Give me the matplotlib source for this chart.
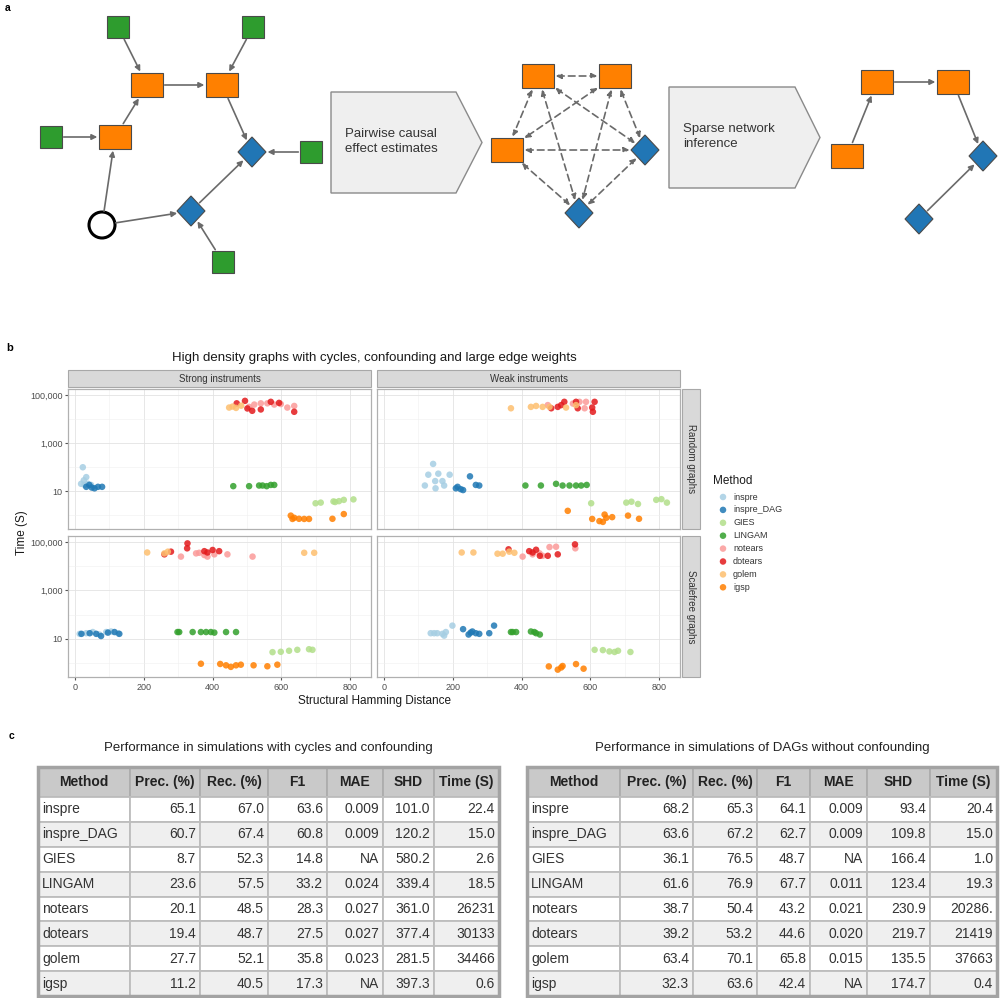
import matplotlib
matplotlib.use("Agg")
import matplotlib.pyplot as plt
from matplotlib.patches import Rectangle, Polygon, Circle, FancyArrowPatch
from matplotlib.ticker import FixedLocator, NullFormatter

plt.rcParams["font.family"] = ["Liberation Sans", "DejaVu Sans"]

# ---------------- data: panel b (SHD vs time per facet) ----------------
methods = ["inspre", "inspre_DAG", "GIES", "LINGAM", "notears", "dotears", "golem", "igsp"]
method_colors = ["#A6CEE3", "#1F78B4", "#B2DF8A", "#33A02C", "#FB9A99", "#E31A1C", "#FDBF6F", "#FF7F00"]

# strong instruments, random graphs
sr_shd = {
    "inspre": [23, 33, 26, 18, 38, 47, 28],
    "inspre_DAG": [33, 42, 57, 67, 79, 49],
    "GIES": [699, 714, 751, 767, 781, 809, 756],
    "LINGAM": [460, 506, 535, 545, 557, 569, 579],
    "notears": [506, 521, 540, 559, 579, 598, 617, 637],
    "dotears": [470, 494, 501, 515, 540, 569, 593, 637],
    "golem": [448, 458, 468, 483],
    "igsp": [627, 637, 651, 666, 680, 632, 748, 781],
}
sr_time = {
    "inspre": [98, 38, 28, 20, 20, 18, 18],
    "inspre_DAG": [15, 18, 13, 15, 15, 14],
    "GIES": [3.1, 3.3, 3.7, 3.8, 4.3, 4.5, 3.5],
    "LINGAM": [16, 16, 17, 17, 16, 18, 18],
    "notears": [32000, 40000, 45000, 45000, 40000, 42000, 30000, 35000],
    "dotears": [45000, 57000, 27500, 22000, 25000, 52000, 47000, 20000],
    "golem": [30000, 33000, 29000, 36000],
    "igsp": [0.95, 0.77, 0.7, 0.69, 0.69, 0.69, 0.7, 1.1],
}
# weak instruments, random graphs
wr_shd = {
    "inspre": [143, 129, 158, 191, 149, 170, 119, 150, 175],
    "inspre_DAG": [250, 209, 223, 267, 277, 230, 214],
    "GIES": [602, 704, 719, 738, 791, 806, 822],
    "LINGAM": [411, 456, 500, 519, 539, 558, 573, 589],
    "notears": [476, 549, 568, 587, 583],
    "dotears": [486, 505, 524, 558, 563, 607, 612, 515, 605],
    "golem": [369, 427, 442, 461, 481, 529, 558],
    "igsp": [534, 605, 626, 641, 646, 663, 709, 741, 636],
}
wr_time = {
    "inspre": [135, 48, 53, 48, 26, 26, 17, 13, 17],
    "inspre_DAG": [41, 13, 12, 18, 17, 11, 15],
    "GIES": [3.1, 3.3, 3.6, 2.9, 4.3, 4.6, 3.3],
    "LINGAM": [17, 17, 20, 17, 17, 17, 17, 18],
    "notears": [38000, 44000, 52000, 52000, 28000],
    "dotears": [28000, 32000, 52000, 52000, 28000, 20000, 52000, 38000, 30000],
    "golem": [28000, 32000, 35000, 32000, 32000, 30000, 38000],
    "igsp": [1.5, 0.69, 0.56, 1.05, 0.77, 0.82, 0.95, 0.7, 0.52],
}
# strong instruments, scalefree graphs
ss_shd = {
    "inspre": [14, 33, 52, 71, 91, 105, 125],
    "inspre_DAG": [19, 43, 62, 76, 96, 115, 129],
    "GIES": [574, 598, 622, 646, 680, 690],
    "LINGAM": [298, 303, 342, 366, 381, 395, 405, 439, 468],
    "notears": [308, 352, 376, 405, 443, 516, 385, 361],
    "dotears": [327, 326, 260, 279, 376, 385, 400, 419],
    "golem": [210, 260, 270, 666, 695],
    "igsp": [366, 422, 439, 453, 468, 482, 519, 559, 588],
}
ss_time = {
    "inspre": [16, 17, 19, 15, 19, 20, 17],
    "inspre_DAG": [16, 17, 16, 13, 18, 19, 16],
    "GIES": [2.8, 2.9, 3.2, 3.5, 3.7, 3.5],
    "LINGAM": [19, 19, 19, 19, 19, 19, 18, 19, 19],
    "notears": [25000, 34000, 29000, 31000, 31000, 25000, 25000, 36000],
    "dotears": [88000, 55000, 31000, 40000, 42000, 37000, 47000, 42000],
    "golem": [37000, 34000, 40000, 36000, 36000],
    "igsp": [0.93, 0.91, 0.8, 0.69, 0.8, 0.85, 0.8, 0.73, 0.85],
}
# weak instruments, scalefree graphs
ws_shd = {
    "inspre": [136, 155, 170, 180, 199, 146, 175],
    "inspre_DAG": [230, 246, 257, 267, 277, 306, 320, 252],
    "GIES": [612, 636, 655, 670, 680, 716],
    "LINGAM": [369, 384, 427, 442, 453, 374, 437],
    "notears": [403, 432, 461, 481, 500, 556, 452],
    "dotears": [362, 422, 432, 453, 476, 505, 555, 442],
    "golem": [226, 260, 330, 345, 364, 379],
    "igsp": [479, 505, 515, 519, 558, 580],
}
ws_time = {
    "inspre": [17, 17, 16, 19, 35, 17, 13.5],
    "inspre_DAG": [25, 15, 20, 17, 16, 17, 35, 18],
    "GIES": [3.5, 3.4, 3.0, 2.85, 3.2, 2.85],
    "LINGAM": [19, 19, 20, 17, 15, 19, 19],
    "notears": [25000, 31000, 27000, 62000, 64000, 55000, 34000],
    "dotears": [50000, 42000, 37000, 27000, 27000, 31000, 80000, 48000],
    "golem": [37000, 37000, 33000, 33000, 40000, 36000],
    "igsp": [0.72, 0.53, 0.65, 0.75, 0.9, 0.58],
}

# ---------------- data: panel c tables ----------------
table_header = ["Method", "Prec. (%)", "Rec. (%)", "F1", "MAE", "SHD", "Time (S)"]
cyc_prec = ["65.1", "60.7", "8.7", "23.6", "20.1", "19.4", "27.7", "11.2"]
cyc_rec = ["67.0", "67.4", "52.3", "57.5", "48.5", "48.7", "52.1", "40.5"]
cyc_f1 = ["63.6", "60.8", "14.8", "33.2", "28.3", "27.5", "35.8", "17.3"]
cyc_mae = ["0.009", "0.009", "NA", "0.024", "0.027", "0.027", "0.023", "NA"]
cyc_shd = ["101.0", "120.2", "580.2", "339.4", "361.0", "377.4", "281.5", "397.3"]
cyc_time = ["22.4", "15.0", "2.6", "18.5", "26231", "30133", "34466", "0.6"]

dag_prec = ["68.2", "63.6", "36.1", "61.6", "38.7", "39.2", "63.4", "32.3"]
dag_rec = ["65.3", "67.2", "76.5", "76.9", "50.4", "53.2", "70.1", "63.6"]
dag_f1 = ["64.1", "62.7", "48.7", "67.7", "43.2", "44.6", "65.8", "42.4"]
dag_mae = ["0.009", "0.009", "NA", "0.011", "0.021", "0.020", "0.015", "NA"]
dag_shd = ["93.4", "109.8", "166.4", "123.4", "230.9", "219.7", "135.5", "174.7"]
dag_time = ["20.4", "15.0", "1.0", "19.3", "20286.", "21419", "37663", "0.4"]

W, H = 1000, 998
fig = plt.figure(figsize=(10, 9.98), dpi=100)
bg = fig.add_axes([0, 0, 1, 1])
bg.set_xlim(0, W)
bg.set_ylim(H, 0)
bg.axis("off")


def rect(l, t, r, b):
    return [l / W, 1 - b / H, (r - l) / W, (b - t) / H]


# ---------------- panel a: diagrams ----------------
GREEN, ORANGE, BLUE = "#2E9C2E", "#FF8000", "#2176B5"
EDGE = "#4a4a4a"
centers = {}


def make(kind, x, y):
    if kind == "g":
        p = Rectangle((x - 11, y - 11), 22, 22, fc=GREEN, ec=EDGE, lw=0.8)
    elif kind == "o":
        p = Rectangle((x - 16, y - 12), 32, 24, fc=ORANGE, ec=EDGE, lw=0.8)
    elif kind == "b":
        p = Polygon([(x, y - 15), (x + 14, y), (x, y + 15), (x - 14, y)], closed=True, fc=BLUE, ec=EDGE, lw=0.8)
    else:
        p = Circle((x, y), 13, fc="white", ec="black", lw=2.2)
    bg.add_patch(p)
    centers[p] = (x, y)
    return p


def edge(pa, pb, both=False):
    a = FancyArrowPatch(
        centers[pa], centers[pb], patchA=pa, patchB=pb,
        arrowstyle="<|-|>" if both else "-|>", mutation_scale=8,
        color="#6a6a6a", lw=1.2, shrinkA=1.5, shrinkB=1.5,
        linestyle=(0, (4, 2.5)) if both else "-", zorder=1,
    )
    bg.add_patch(a)


# left: true graph
gA = make("g", 118, 27)
gB = make("g", 253, 27)
o1 = make("o", 147, 85)
o2 = make("o", 222, 85)
gC = make("g", 51, 137)
o3 = make("o", 115, 137)
b1 = make("b", 252, 152)
gD = make("g", 311, 152)
cU = make("c", 102, 225)
b2 = make("b", 191, 211)
gE = make("g", 223, 262)
for a, b in [(gA, o1), (gB, o2), (o1, o2), (o3, o1), (gC, o3), (o2, b1),
             (gD, b1), (cU, o3), (cU, b2), (b2, b1), (gE, b2)]:
    edge(a, b)

# pentagon arrows
for (l, t, r, b, tip), txt in [((331, 92, 456, 193, 482), "Pairwise causal\neffect estimates"),
                               ((669, 87, 795, 188, 820), "Sparse network\ninference")]:
    bg.add_patch(Polygon([(l, t), (r, t), (tip, (t + b) / 2), (r, b), (l, b)], closed=True,
                         fc="#EFEFEF", ec="#8a8a8a", lw=1.0))
    bg.text(l + 14, (t + b) / 2 - 1, txt, ha="left", va="center", fontsize=9.5, color="#333333", linespacing=1.3)

# middle: pairwise graph
m = [make("o", 538, 76), make("o", 615, 76), make("o", 507, 150), make("b", 645, 150), make("b", 579, 213)]
for i in range(len(m)):
    for j in range(i + 1, len(m)):
        edge(m[i], m[j], both=True)

# right: sparse graph
r1 = make("o", 877, 82)
r2 = make("o", 953, 82)
r3 = make("o", 847, 156)
r4 = make("b", 983, 156)
r5 = make("b", 919, 219)
for a, b in [(r3, r1), (r1, r2), (r2, r4), (r5, r4)]:
    edge(a, b)

bg.text(5, 8, "a", fontsize=7.5, fontweight="bold", va="center", ha="left")

# ---------------- panel b: faceted scatter ----------------
bg.text(6, 348, "b", fontsize=8, fontweight="bold", va="center", ha="left")
bg.text(374, 358, "High density graphs with cycles, confounding and large edge weights",
        fontsize=9.5, ha="center", va="center", color="#1a1a1a")

cols = [(68, 371), (377, 680)]
rows = [(389, 529), (536, 677)]
facets = [
    (0, 0, sr_shd, sr_time), (0, 1, wr_shd, wr_time),
    (1, 0, ss_shd, ss_time), (1, 1, ws_shd, ws_time),
]
for ri, ci, shd, tm in facets:
    l, r = cols[ci]
    t, b = rows[ri]
    ax = fig.add_axes(rect(l, t, r, b))
    ax.set_facecolor("white")
    ax.set_xlim(-20, 860)
    ax.set_yscale("log")
    ax.set_ylim(10 ** -0.58, 10 ** 5.25)
    ax.set_xticks([0, 200, 400, 600, 800])
    ax.xaxis.set_minor_locator(FixedLocator([100, 300, 500, 700]))
    ax.yaxis.set_major_locator(FixedLocator([10, 1000, 100000]))
    ax.yaxis.set_minor_locator(FixedLocator([1, 100, 10000]))
    ax.yaxis.set_minor_formatter(NullFormatter())
    ax.set_yticklabels(["10", "1,000", "100,000"])
    ax.grid(which="major", color="#E3E3E3", lw=0.6)
    ax.grid(which="minor", color="#EFEFEF", lw=0.4)
    ax.set_axisbelow(True)
    for s in ax.spines.values():
        s.set_color("#B0B0B0")
        s.set_linewidth(0.9)
    ax.tick_params(which="minor", length=0)
    ax.tick_params(which="major", length=2.5, color="#555555", labelsize=6.5, labelcolor="#4D4D4D", pad=1.5)
    if ri == 0:
        ax.tick_params(axis="x", length=0, labelbottom=False)
    if ci == 1:
        ax.tick_params(axis="y", length=0, labelleft=False)
    for name, colr in zip(methods, method_colors):
        ax.scatter(shd[name], tm[name], s=22, color=colr, alpha=0.85, edgecolors="none", zorder=3)

# strips
for (l, r), lab in zip(cols, ["Strong instruments", "Weak instruments"]):
    bg.add_patch(Rectangle((l, 370), r - l, 17, fc="#D9D9D9", ec="#A8A8A8", lw=0.8))
    bg.text((l + r) / 2, 378.5, lab, fontsize=7, ha="center", va="center", color="#333333")
for (t, b), lab in zip(rows, ["Random graphs", "Scalefree graphs"]):
    bg.add_patch(Rectangle((682, t), 18, b - t, fc="#D9D9D9", ec="#A8A8A8", lw=0.8))
    bg.text(691, (t + b) / 2, lab, fontsize=7, ha="center", va="center", rotation=-90, color="#333333")

bg.text(22, 533, "Time (S)", fontsize=8.5, rotation=90, ha="center", va="center", color="#1a1a1a")
bg.text(374, 701, "Structural Hamming Distance", fontsize=8.5, ha="center", va="center", color="#1a1a1a")

# legend
bg.text(713, 481, "Method", fontsize=8.5, ha="left", va="center", color="#1a1a1a")
for i, (name, colr) in enumerate(zip(methods, method_colors)):
    yy = 497 + i * 12.9
    bg.scatter([723], [yy], s=22, color=colr, alpha=0.85, edgecolors="none")
    bg.text(733, yy, name, fontsize=6.5, ha="left", va="center", color="#333333")

# ---------------- panel c: tables ----------------
bg.text(9, 736, "c", fontsize=7.5, fontweight="bold", va="center", ha="left")


def draw_table(col_edges, title, columns):
    top, head_b, bottom = 767, 797, 996
    row_h = (bottom - head_b) / len(methods)
    bg.text((col_edges[0] + col_edges[-1]) / 2, 748, title, fontsize=9.5, ha="center", va="center", color="#222222")
    for j, lab in enumerate(table_header):
        l, r = col_edges[j], col_edges[j + 1]
        bg.add_patch(Rectangle((l, top), r - l, head_b - top, fc="#C9C9C9", ec="#ADADAD", lw=1.3))
        bg.text((l + r) / 2, (top + head_b) / 2, lab, fontsize=10, fontweight="bold",
                ha="center", va="center", color="#222222")
    for i, name in enumerate(methods):
        t = head_b + i * row_h
        fc = "white" if i % 2 == 0 else "#EFEFEF"
        vals = [name] + [c[i] for c in columns]
        for j, v in enumerate(vals):
            l, r = col_edges[j], col_edges[j + 1]
            bg.add_patch(Rectangle((l, t), r - l, row_h, fc=fc, ec="#BDBDBD", lw=1.3))
            if j == 0:
                bg.text(l + 4, t + row_h / 2, v, fontsize=10, ha="left", va="center", color="#333333")
            else:
                bg.text(r - 4, t + row_h / 2, v, fontsize=10, ha="right", va="center", color="#333333")
    bg.add_patch(Rectangle((col_edges[0], top), col_edges[-1] - col_edges[0], bottom - top,
                           fill=False, ec="#A3A3A3", lw=2.5))


draw_table([38, 130, 200, 268, 327, 383, 434, 499], "Performance in simulations with cycles and confounding",
           [cyc_prec, cyc_rec, cyc_f1, cyc_mae, cyc_shd, cyc_time])
draw_table([527, 620, 693, 757, 810, 867, 930, 997], "Performance in simulations of DAGs without confounding",
           [dag_prec, dag_rec, dag_f1, dag_mae, dag_shd, dag_time])

fig.savefig("out.png", dpi=100)
